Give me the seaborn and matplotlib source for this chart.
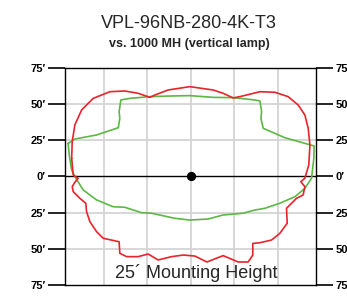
import numpy as np
import pandas as pd
import matplotlib as mpl
import matplotlib.pyplot as plt
import seaborn as sns

sns.set_style("white")
plt.rcParams['font.family'] = ['Liberation Sans Narrow', 'Liberation Sans', 'DejaVu Sans']

# isofootcandle outline, LED fixture (red), feet from pole
red_x = [-82.4, -82.0, -80.2, -75.5, -67.5, -56.0, -45.6, -36.4, -28.3, -24.9, -15.7, -0.7,
         15.4, 22.3, 29.2, 33.9, 47.7, 58.1, 67.2, 74.2, 78.8, 81.1, 82.3, 81.5, 78.8, 76.0,
         78.8, 77.6, 73.0, 66.1, 66.6, 61.5, 55.8, 47.7, 42.8, 42.8, 39.6, 32.7, 22.3, 11.1,
         2.8, -5.3, -13.3, -22.6, -29.5, -36.4, -44.4, -49.1, -49.6, -60.6, -65.2, -69.8,
         -72.1, -72.6, -76.7, -81.3, -82.0, -80.2, -77.9, -81.3]
red_y = [12.6, 24.1, 35.6, 46.0, 54.0, 58.6, 59.1, 57.5, 54.7, 56.3, 59.8, 62.1,
         59.8, 57.5, 54.3, 55.2, 58.6, 58.2, 55.2, 49.4, 42.5, 33.3, 21.8, 7.9, -1.2, -3.6,
         -7.0, -12.8, -15.1, -22.0, -32.3, -39.3, -43.9, -45.8, -46.3, -54.3, -59.1, -59.1, -54.7, -59.1,
         -55.0, -54.3, -55.4, -57.7, -53.6, -55.4, -55.4, -53.1, -45.1, -42.7, -38.1, -31.2,
         -24.3, -18.5, -15.1, -10.5, -7.0, -4.0, -1.2, 1.0]

# 1000 MH vertical lamp (green)
green_x = [-84.8, -80.2, -65.2, -50.2, -49.1, -49.6, -48.4, -42.2, -28.3, -15.7, -0.7, 15.4,
           29.2, 44.2, 47.7, 48.9, 48.4, 50.0, 65.0, 78.8, 85.2, 85.0, 83.4, 78.8, 71.9,
           61.5, 51.1, 44.2, 36.1, 22.3, 11.9, -0.7, -11.1, -27.2, -34.1, -45.6, -53.7,
           -65.2, -74.4, -80.2, -82.4, -84.1]
green_y = [22.9, 25.9, 28.7, 33.7, 40.2, 44.8, 52.9, 54.0, 55.2, 55.6, 55.9, 54.7,
           54.5, 52.9, 52.2, 44.8, 40.2, 33.3, 26.8, 22.9, 21.1, 12.6, -1.2, -8.2, -14.0,
           -18.5, -22.0, -23.2, -25.4, -26.6, -29.4, -30.1, -28.9, -25.4, -25.0, -21.3, -20.9,
           -16.2, -9.3, -0.1, 4.5, 14.9]

y_ticks = [75, 50, 25, 0, -25, -50, -75]
y_labels = ["75′", "50′", "25′", "0′", "25′", "50′", "75′"]
x_grid = [-60, -30, 0, 30, 60]

title = "VPL-96NB-280-4K-T3"
subtitle = "vs. 1000 MH (vertical lamp)"
note = "25´ Mounting Height"

red = pd.DataFrame({"x": red_x + red_x[:1], "y": red_y + red_y[:1]})
green = pd.DataFrame({"x": green_x + green_x[:1], "y": green_y + green_y[:1]})

fig = plt.figure(figsize=(3.47, 2.96), dpi=100)
ax = fig.add_axes([0.1873, 0.0372, 0.7234, 0.7331])

for g in x_grid:
    ax.axvline(g, color="#d4d4d4", lw=1.3, zorder=0)
for t in [50, 25, -25, -50]:
    ax.axhline(t, color="#d4d4d4", lw=1.3, zorder=0)
ax.axhline(0, color="black", lw=1.0, zorder=1)

sns.lineplot(data=green, x="x", y="y", sort=False, estimator=None, color="#5cb845", lw=1.2, ax=ax)
sns.lineplot(data=red, x="x", y="y", sort=False, estimator=None, color="#e8232b", lw=1.2, ax=ax)
ax.scatter([0], [0], s=32, color="black", zorder=5)

ax.set_xlim(-87, 86.5)
ax.set_ylim(-75, 75)
ax.set_xticks([])
ax.set_yticks(y_ticks)
ax.set_yticklabels(y_labels, fontsize=8, fontweight="bold")
ax.tick_params(axis="y", left=True, right=True, labelright=True, length=12, width=1.2, pad=2, colors="black")
ax.set_xlabel("")
ax.set_ylabel("")
for s in ax.spines.values():
    s.set_color("black")
    s.set_linewidth(1.0)

ax.text(4, -70.5, note, ha="center", va="baseline", fontsize=13, zorder=6)

fig.text(0.545, 0.905, title, ha="center", va="baseline", fontsize=13)
fig.text(0.545, 0.84, subtitle, ha="center", va="baseline", fontsize=9, fontweight="bold",
         family=["Liberation Sans", "DejaVu Sans"])

plt.savefig("out.png", dpi=100)
